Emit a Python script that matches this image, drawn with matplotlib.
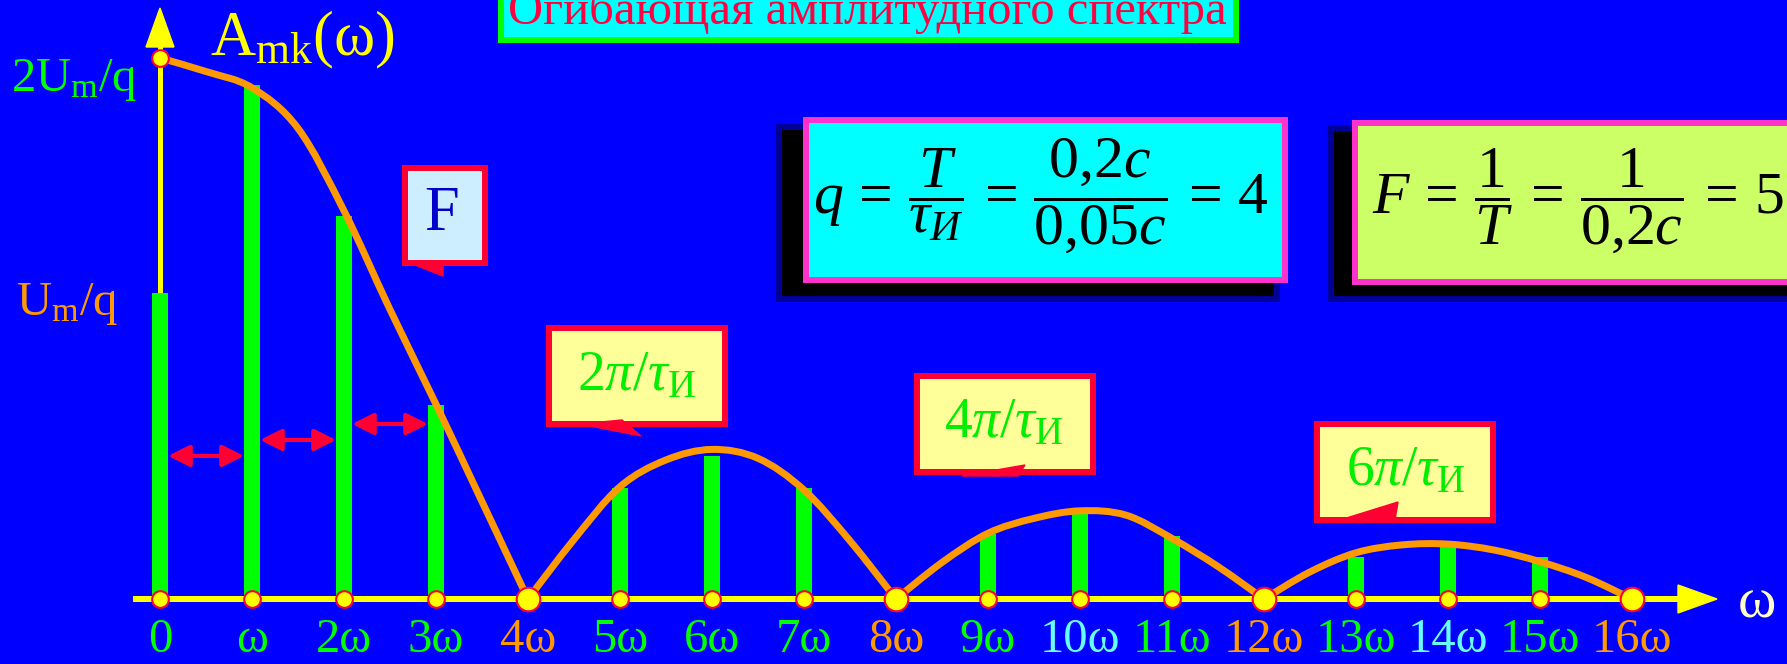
import numpy as np
import matplotlib
matplotlib.use('Agg')
import matplotlib.pyplot as plt
from matplotlib.path import Path
from matplotlib.patches import PathPatch, Rectangle, Polygon

plt.rcParams['font.family'] = ['Liberation Serif', 'DejaVu Serif']
plt.rcParams['mathtext.fontset'] = 'custom'
plt.rcParams['mathtext.rm'] = 'Liberation Serif'
plt.rcParams['mathtext.it'] = 'Liberation Serif:italic'
plt.rcParams['mathtext.bf'] = 'Liberation Serif:bold'

# ---- data (amplitudes in units of Um/q, harmonics k = 0..16) ----
harm_k = list(range(17))
harm_a = [1.13, 1.90, 1.416, 0.716, 0.0, 0.41, 0.529, 0.41, 0.0,
          0.24, 0.32, 0.233, 0.0, 0.154, 0.213, 0.154, 0.0]
tick_labels = ['0', 'ω', '2ω', '3ω', '4ω', '5ω', '6ω', '7ω', '8ω',
               '9ω', '10ω', '11ω', '12ω', '13ω', '14ω', '15ω', '16ω']
tick_colors = ['#00FF00'] * 17
for i in (4, 8, 12, 16):
    tick_colors[i] = '#FF9900'
for i in (10, 14):
    tick_colors[i] = '#66FFFF'

# envelope at half steps
env_k = [i / 2 for i in range(33)]
env_a = [2.0, 1.95, 1.89, 1.74, 1.435, 1.07, 0.72, 0.36, 0.0,
         0.22, 0.415, 0.514, 0.553, 0.52, 0.403, 0.215, 0.0,
         0.135, 0.243, 0.298, 0.326, 0.31, 0.224, 0.12, 0.0,
         0.10, 0.171, 0.2, 0.203, 0.181, 0.138, 0.08, 0.0]

# ---- colours ----
BLUE = '#0000FF'
GREEN = '#00FF00'
ORANGE = '#FF9900'
YELLOW = '#FFFF00'
RED = '#FF0033'
PINK = '#FF33CC'

# ---- pixel layout ----
W, H = 1787, 664
X0, DX = 160, 92.0      # pixel of k=0, pixels per harmonic
Y0, DY = 599, 270.5     # pixel of zero line, pixels per Um/q


def pt(px):
    return px * 0.72


fig = plt.figure(figsize=(W / 100, H / 100), dpi=100, facecolor=BLUE)
ax = fig.add_axes([0, 0, 1, 1])
ax.set_xlim(-X0 / DX, (W - X0) / DX)
ax.set_ylim(-(H - Y0) / DY, Y0 / DY)
ax.axis('off')

# y axis (under the first bar)
y_base = (Y0 - 47) / DY
y_tip = (Y0 - 8) / DY
ax.plot([0, 0], [0, y_base], color=YELLOW, lw=pt(5), zorder=1)
ax.add_patch(Polygon([(-14 / DX, y_base), (14 / DX, y_base), (0, y_tip)],
                     closed=True, color=YELLOW, zorder=1))

# spectral lines
bar_w = 16 / DX
ax.bar(harm_k, harm_a, width=bar_w, color=GREEN, zorder=2)

# x axis
x_start = (133 - X0) / DX
x_base = (1678 - X0) / DX
x_tip = (1717 - X0) / DX
ax.plot([x_start, x_base], [0, 0], color=YELLOW, lw=pt(6), zorder=3,
        solid_capstyle='butt')
ax.add_patch(Polygon([(x_base, 14 / DY), (x_base, -14 / DY), (x_tip, 0)],
                     closed=True, color=YELLOW, zorder=3))


# envelope, drawn lobe by lobe (sharp corners at the zeros)
def smooth_path(xs, ys):
    pts = np.column_stack([xs, ys])
    p = np.vstack([pts[0], pts, pts[-1]])
    verts = [pts[0]]
    codes = [Path.MOVETO]
    for i in range(1, len(p) - 2):
        c1 = p[i] + (p[i + 1] - p[i - 1]) / 6
        c2 = p[i + 1] - (p[i + 2] - p[i]) / 6
        verts += [c1, c2, p[i + 1]]
        codes += [Path.CURVE4] * 3
    return Path(verts, codes)


ek = np.array(env_k)
ea = np.array(env_a)
zeros = list(np.where(ea == 0)[0])
starts = [0] + zeros[:-1]
for s, e in zip(starts, zeros):
    ax.add_patch(PathPatch(smooth_path(ek[s:e + 1], ea[s:e + 1]),
                           fill=False, edgecolor=ORANGE, lw=pt(7),
                           capstyle='round', joinstyle='round', zorder=4))

# markers on the axis
for k in harm_k:
    big = k > 0 and k % 4 == 0
    ax.plot(k, 0, 'o', ms=17 if big else 12, mfc=YELLOW, mec=RED,
            mew=1.5, zorder=5)
ax.plot(env_k[0], env_a[0], 'o', ms=12, mfc=YELLOW, mec=RED, mew=1.5,
        zorder=5)

# spacing arrows between neighbouring lines
for k, yy in zip([0, 1, 2], [0.529, 0.588, 0.647]):
    ax.annotate('', xy=(k + 1 - bar_w / 2, yy), xytext=(k + bar_w / 2, yy),
                arrowprops=dict(arrowstyle='<|-|>,head_length=1.0,head_width=0.5',
                                color=RED, lw=3, mutation_scale=13,
                                shrinkA=0, shrinkB=0),
                zorder=4)

# tick labels
for k, lab, c in zip(harm_k, tick_labels, tick_colors):
    ax.text(k, -(652 - Y0) / DY, lab, ha='center', va='baseline',
            fontsize=35, color=c)
ax.text((1757 - X0) / DX, -(617 - Y0) / DY, 'ω', ha='center',
        va='baseline', fontsize=42, color='#FFFFCC')

# ---- decorations in pixel coordinates ----
deco = fig.add_axes([0, 0, 1, 1])
deco.set_xlim(0, W)
deco.set_ylim(H, 0)
deco.axis('off')


def box(x0, y0, x1, y1, fc, ec=None, lw=0, z=1, alpha=1.0):
    h = lw / 2
    deco.add_patch(Rectangle((x0 + h, y0 + h), x1 - x0 - lw, y1 - y0 - lw,
                             facecolor=fc, edgecolor=ec if ec else fc,
                             lw=pt(lw), zorder=z, alpha=alpha,
                             joinstyle='miter'))


# title
box(498, -10, 1239, 43, '#00FFFF', GREEN, 6)
deco.text(867, 24, 'Огибающая амплитудного спектра', ha='center',
          va='baseline', fontsize=35, color='#FF0040', zorder=2)

# axis captions
deco.text(210, 55, r'A$_{\mathrm{mk}}$(ω)', ha='left', va='baseline',
          fontsize=45, color=YELLOW)
deco.text(11, 91, r'2U$_{\mathrm{m}}$/q', ha='left', va='baseline',
          fontsize=35, color=GREEN)
deco.text(16, 315, r'U$_{\mathrm{m}}$/q', ha='left', va='baseline',
          fontsize=35, color=ORANGE)

# formula boxes with shadows
box(776, 124, 1280, 302, 'black', alpha=0.4, z=1)
box(782, 130, 1274, 296, 'black', z=1)
box(803, 117, 1288, 283, '#00FFFF', PINK, 6, z=2)
deco.text(813, 214,
          r'$q\,=\,\dfrac{T}{\tau_{И}}\,=\,\dfrac{0{,}2c}{0{,}05c}\,=\,4$',
          ha='left', va='baseline', fontsize=43, color='black', zorder=3)

box(1328, 125, 1800, 302, 'black', alpha=0.4, z=1)
box(1334, 131, 1800, 296, 'black', z=1)
box(1352, 120, 1800, 285, '#CCFF66', PINK, 6, z=2)
deco.text(1372, 214,
          r'$F\,=\,\dfrac{1}{T}\,=\,\dfrac{1}{0{,}2c}\,=\,5\ Гц$',
          ha='left', va='baseline', fontsize=43, color='black', zorder=3)

# callouts
box(402, 165, 488, 266, '#CCEEFF', RED, 6, z=2)
deco.add_patch(Polygon([(410, 263), (443, 276), (443, 263)], color=RED,
                       zorder=2))
deco.text(442, 230, 'F', ha='center', va='baseline', fontsize=45,
          color='#0000CC', zorder=3)

callouts = [
    ((546, 325, 728, 427), [(580, 424), (641, 436), (622, 420)],
     (637, 390), r'$2\pi/\tau_{\mathrm{И}}$'),
    ((914, 373, 1096, 475), [(962, 476), (1025, 465), (1018, 476)],
     (1004, 437), r'$4\pi/\tau_{\mathrm{И}}$'),
    ((1314, 421, 1496, 523), [(1340, 520), (1398, 502), (1395, 520)],
     (1406, 485), r'$6\pi/\tau_{\mathrm{И}}$'),
]
for (x0, y0, x1, y1), tail, (tx, ty), s in callouts:
    box(x0, y0, x1, y1, '#FFFF99', RED, 6, z=2)
    deco.add_patch(Polygon(tail, color=RED, zorder=2))
    deco.text(tx, ty, s, ha='center', va='baseline', fontsize=40,
              color='#00EE00', zorder=3)

fig.savefig('out.png', dpi=100, facecolor=fig.get_facecolor())
